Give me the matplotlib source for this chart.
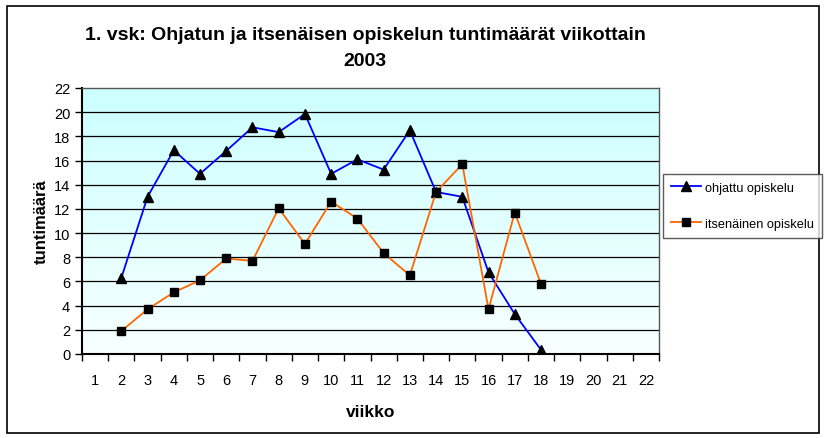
import numpy as np
import matplotlib.pyplot as plt
from matplotlib.patches import Rectangle

plt.rcParams['font.family'] = ['Liberation Sans', 'DejaVu Sans']

viikot = list(range(1, 23))
viikot_data = [2, 3, 4, 5, 6, 7, 8, 9, 10, 11, 12, 13, 14, 15, 16, 17, 18]
ohjattu = [6.3, 13.0, 16.85, 14.9, 16.8, 18.75, 18.35, 19.85, 14.9, 16.1, 15.25,
           18.5, 13.4, 13.0, 6.75, 3.3, 0.35]
itsenainen = [1.9, 3.7, 5.1, 6.1, 7.9, 7.7, 12.05, 9.1, 12.6, 11.2, 8.35,
              6.5, 13.4, 15.7, 3.7, 11.7, 5.8]

fig = plt.figure(figsize=(8.27, 4.39), dpi=100)
ax = fig.add_axes([82 / 827, 1 - 355 / 439, (659 - 82) / 827, (355 - 89) / 439])

# taustan liukuvari: ylhaalla vaalea syaani, alhaalla lahes valkoinen
grad = np.linspace(0, 1, 256).reshape(-1, 1)
top = np.array([0.80, 1.0, 1.0])
bot = np.array([0.97, 1.0, 1.0])
img = bot + (top - bot) * grad[..., None]
img = img.reshape(256, 1, 3)
ax.imshow(img, extent=[0.5, 22.5, 0, 22], aspect='auto', origin='lower', zorder=0)

ax.set_xlim(0.5, 22.5)
ax.set_ylim(0, 22)
ax.set_yticks(range(0, 23, 2))
for y in range(2, 22, 2):
    ax.axhline(y, color='black', lw=0.9, zorder=1)

ax.plot(viikot_data, ohjattu, color='#0000FF', lw=1.3, marker='^', ms=7,
        mfc='black', mec='black', label='ohjattu opiskelu', zorder=3)
ax.plot(viikot_data, itsenainen, color='#FF6600', lw=1.3, marker='s', ms=6,
        mfc='black', mec='black', label='itsenäinen opiskelu', zorder=3)

ax.set_xticks(viikot)
ax.set_xticklabels([str(v) for v in viikot], fontsize=10.5)
ax.set_xticks(np.arange(0.5, 23, 1), minor=True)
ax.tick_params(axis='x', which='major', length=0, pad=14)
ax.tick_params(axis='x', which='minor', length=5, direction='out', width=1)
ax.tick_params(axis='y', length=5, direction='out', labelsize=10.5, width=1)

for s in ['left', 'bottom']:
    ax.spines[s].set_linewidth(1.5)
for s in ['top', 'right']:
    ax.spines[s].set_color('#555555')
    ax.spines[s].set_linewidth(1)

ax.set_ylabel('tuntimäärä', fontsize=12, fontweight='bold', labelpad=4)
ax.set_xlabel('viikko', fontsize=12.5, fontweight='bold', labelpad=12)

fig.text(365 / 827, 1 - 36 / 439, '1. vsk: Ohjatun ja itsenäisen opiskelun tuntimäärät viikottain',
         ha='center', va='center', fontsize=14, fontweight='bold')
fig.text(365 / 827, 1 - 62 / 439, '2003', ha='center', va='center',
         fontsize=14, fontweight='bold')

leg = fig.legend(loc='upper left', bbox_to_anchor=(663 / 827, 1 - 175 / 439),
                 frameon=True, fancybox=False, fontsize=9.2, handlelength=2.4,
                 labelspacing=1.9, borderpad=0.6, handletextpad=0.3,
                 borderaxespad=0)
leg.get_frame().set_edgecolor('#333333')
leg.get_frame().set_linewidth(1)

# kaavion ulkoreunus
fig.patches.append(Rectangle((7 / 827, 5 / 439), 812 / 827, 427 / 439,
                             transform=fig.transFigure, fill=False,
                             edgecolor='black', lw=1.2))

fig.savefig('out.png', dpi=100)
